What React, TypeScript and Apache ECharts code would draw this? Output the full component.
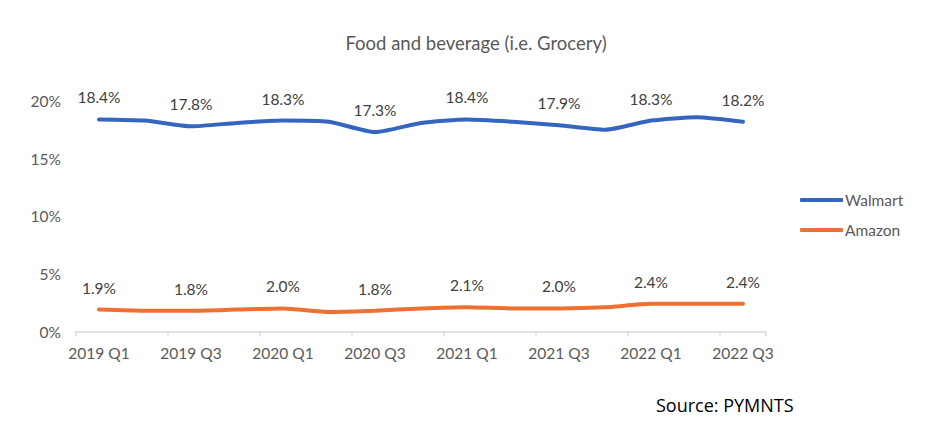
import { useEffect, useRef } from "react";
import * as echarts from "echarts";

const quarters = [
  "2019 Q1", "2019 Q2", "2019 Q3", "2019 Q4",
  "2020 Q1", "2020 Q2", "2020 Q3", "2020 Q4",
  "2021 Q1", "2021 Q2", "2021 Q3", "2021 Q4",
  "2022 Q1", "2022 Q2", "2022 Q3",
];
const walmart = [18.4, 18.3, 17.8, 18.1, 18.3, 18.2, 17.3, 18.1, 18.4, 18.2, 17.9, 17.5, 18.3, 18.6, 18.2];
const amazon = [1.9, 1.8, 1.8, 1.9, 2.0, 1.7, 1.8, 2.0, 2.1, 2.0, 2.0, 2.1, 2.4, 2.4, 2.4];
const yTicks = [0, 5, 10, 15, 20];

const textColor = "#595959";
const font = "Lato, 'Open Sans', sans-serif";

// labels only on every other quarter, like the original
const everyOther = (p: any) => (p.dataIndex % 2 === 0 ? p.value.toFixed(1) + "%" : "");

const App = () => {
  const chartRef = useRef<HTMLDivElement>(null);

  useEffect(() => {
    document.body.style.margin = "0";
    if (!chartRef.current) return;
    const chart = echarts.init(chartRef.current, undefined, { renderer: "svg" });

    const seriesLabel = {
      show: true,
      position: "top" as const,
      distance: 14,
      fontSize: 15.5,
      fontFamily: font,
      color: "#404040",
      formatter: everyOther,
    };

    chart.setOption({
      animation: false,
      textStyle: { fontFamily: font },
      title: {
        text: "Food and beverage (i.e. Grocery)",
        left: 471,
        top: 28,
        textAlign: "center",
        textStyle: { fontSize: 18.5, fontWeight: "normal", color: textColor, fontFamily: font },
      },
      legend: {
        orient: "vertical",
        left: 795,
        top: 187,
        itemWidth: 43,
        itemHeight: 4,
        itemGap: 14,
        icon: "roundRect",
        textStyle: { fontSize: 15.5, color: textColor, fontFamily: font, padding: [0, 0, 0, -3] },
        data: ["Walmart", "Amazon"],
      },
      graphic: [
        {
          type: "text",
          left: 656,
          top: 396,
          style: { text: "Source: PYMNTS", fontSize: 18, fill: "#000", fontFamily: "'Open Sans', sans-serif" },
        },
      ],
      grid: { left: 76, right: 170, top: 101, bottom: 116.5 },
      xAxis: {
        type: "category",
        data: quarters,
        boundaryGap: true,
        axisLine: { lineStyle: { color: "#d9d9d9", width: 1.5 } },
        axisTick: { show: true, length: 5, lineStyle: { color: "#d9d9d9", width: 1.5 } },
        axisLabel: { interval: 1, margin: 13, fontSize: 15.5, color: textColor, fontFamily: font },
      },
      yAxis: {
        type: "value",
        min: yTicks[0],
        max: yTicks[yTicks.length - 1],
        interval: 5,
        splitLine: { show: false },
        axisLine: { show: false },
        axisTick: { show: false },
        axisLabel: { margin: 15, fontSize: 15.5, color: textColor, fontFamily: font, formatter: "{value}%" },
      },
      series: [
        {
          name: "Walmart",
          type: "line",
          data: walmart,
          smooth: 0.2,
          symbol: "circle",
          symbolSize: 0,
          showSymbol: true,
          lineStyle: { color: "#3565BE", width: 4, cap: "round" },
          itemStyle: { color: "#3565BE" },
          label: seriesLabel,
        },
        {
          name: "Amazon",
          type: "line",
          data: amazon,
          smooth: 0.2,
          symbol: "circle",
          symbolSize: 0,
          showSymbol: true,
          lineStyle: { color: "#EE7032", width: 4, cap: "round" },
          itemStyle: { color: "#EE7032" },
          label: seriesLabel,
        },
      ],
    });

    return () => {
      chart.dispose();
    };
  }, []);

  return <div ref={chartRef} style={{ width: 936, height: 448 }} />;
};

export default App;
